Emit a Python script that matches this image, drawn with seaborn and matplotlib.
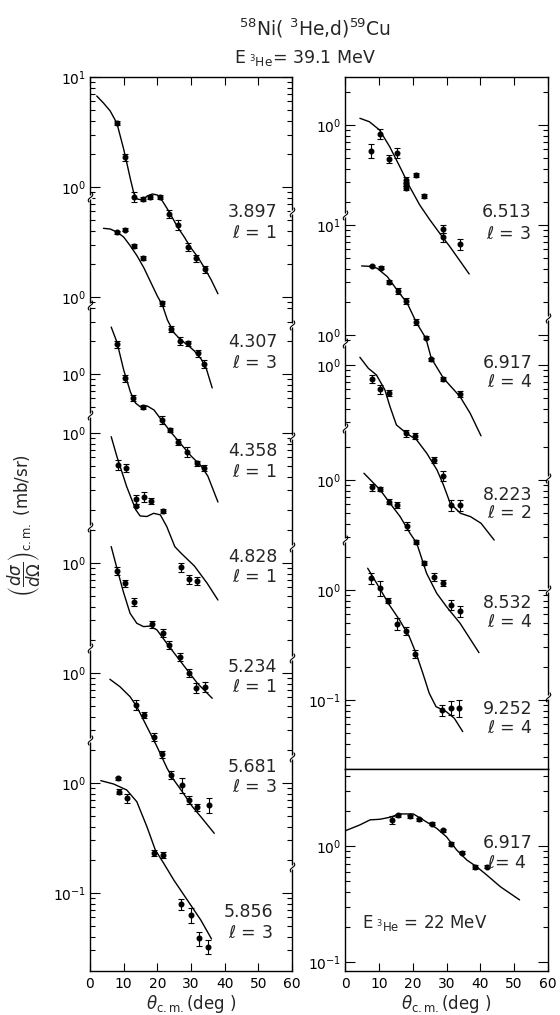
import numpy as np
import pandas as pd
import matplotlib
matplotlib.use("Agg")
import matplotlib.pyplot as plt
import matplotlib.transforms as mtransforms
from matplotlib.path import Path
import seaborn as sns

# ------------------------------------------------------------------
# DATA: differential cross sections (mb/sr) vs theta_cm (deg)
# ------------------------------------------------------------------
# Left column, E(3He) = 39.1 MeV
ex_left = ["3.897", "4.307", "4.358", "4.828", "5.234", "5.681", "5.856"]
ell_left = [1, 3, 1, 1, 1, 3, 3]

th_3897 = [8.0, 10.5, 13.1, 15.7, 17.9, 20.9, 23.6, 26.2, 29.2, 31.5, 34.1]
sg_3897 = [3.79, 1.87, 0.811, 0.773, 0.816, 0.811, 0.572, 0.451, 0.287, 0.225, 0.179]
er_3897 = [0.04, 0.07, 0.10, 0.04, 0.04, 0.04, 0.09, 0.10, 0.08, 0.08, 0.08]
fth_3897 = [2, 4, 6, 8, 10, 11, 12, 13, 14, 15.5, 17, 18.5, 20, 21.5, 23, 24.5, 26, 28, 30, 32, 34, 36, 38]
fsg_3897 = [6.72, 5.80, 4.91, 3.79, 2.21, 1.62, 1.18, 0.882, 0.778, 0.762, 0.828, 0.864, 0.846,
            0.746, 0.631, 0.523, 0.433, 0.351, 0.279, 0.231, 0.184, 0.143, 0.107]

th_4307 = [8.0, 10.4, 13.1, 15.7, 21.3, 24.0, 26.6, 29.1, 32.1, 34.0]
sg_4307 = [3.87, 4.09, 2.91, 2.25, 0.877, 0.512, 0.401, 0.379, 0.308, 0.246]
er_4307 = [0.03, 0.03, 0.04, 0.04, 0.05, 0.06, 0.08, 0.05, 0.07, 0.08]
fth_4307 = [4, 6, 8, 10, 12, 14, 16, 18, 20, 21.5, 23, 25, 27, 29, 31, 33, 34.5, 36.3]
fsg_4307 = [4.21, 4.15, 3.90, 3.51, 2.91, 2.36, 1.84, 1.37, 1.02, 0.846, 0.618, 0.471, 0.406,
            0.366, 0.323, 0.273, 0.226, 0.149]

th_4358 = [8.0, 10.3, 12.9, 15.7, 21.5, 23.9, 26.2, 28.9, 31.8, 33.8]
sg_4358 = [1.87, 0.914, 0.609, 0.498, 0.382, 0.310, 0.242, 0.197, 0.154, 0.139]
er_4358 = [0.07, 0.08, 0.06, 0.04, 0.08, 0.05, 0.06, 0.10, 0.06, 0.06]
fth_4358 = [6.3, 8, 10, 12, 13.5, 15, 17, 19, 21, 24, 27, 30, 33, 35, 38]
fsg_4358 = [2.67, 1.95, 1.09, 0.686, 0.545, 0.501, 0.512, 0.471, 0.390, 0.297, 0.231, 0.180,
            0.146, 0.118, 0.0686]

th_4828 = [8.2, 10.6, 13.6, 13.6, 16.1, 18.1, 21.8, 26.9, 29.4, 31.8]
sg_4828 = [0.512, 0.484, 0.250, 0.218, 0.264, 0.241, 0.195, 0.0601, 0.0468, 0.0451]
er_4828 = [0.10, 0.08, 0.10, 0.03, 0.10, 0.06, 0.04, 0.10, 0.09, 0.08]
fth_4828 = [6.3, 8, 10.9, 13.6, 14.9, 16.9, 18.9, 20.9, 22.8, 25.2, 27, 31, 34.8, 38]
fsg_4828 = [0.925, 0.609, 0.325, 0.200, 0.176, 0.174, 0.186, 0.180, 0.141, 0.0925, 0.081,
            0.0618, 0.043, 0.0303]

th_5234 = [8.0, 10.4, 13.2, 18.4, 21.6, 23.6, 26.6, 29.4, 31.6, 34.3]
sg_5234 = [0.851, 0.654, 0.445, 0.277, 0.232, 0.180, 0.141, 0.1007, 0.0735, 0.075]
er_5234 = [0.08, 0.08, 0.08, 0.08, 0.08, 0.08, 0.08, 0.08, 0.10, 0.10]
fth_5234 = [6.3, 8, 9.9, 11.9, 13.9, 15.9, 17.9, 19.9, 22.8, 25.8, 28.9, 31.9, 36.3]
fsg_5234 = [1.41, 0.895, 0.548, 0.349, 0.283, 0.264, 0.267, 0.246, 0.186, 0.141, 0.106,
            0.0806, 0.0589]

th_5681 = [13.7, 16.1, 18.9, 21.5, 24.2, 27.2, 29.4, 31.8, 35.4]
sg_5681 = [0.512, 0.415, 0.264, 0.182, 0.118, 0.0959, 0.070, 0.0601, 0.0631]
er_5681 = [0.10, 0.06, 0.08, 0.08, 0.08, 0.15, 0.08, 0.08, 0.15]
fth_5681 = [5.9, 8.9, 11.9, 13.9, 16.9, 19.9, 22.9, 24.9, 27.4, 30.4, 32.9, 36.9]
fsg_5681 = [0.877, 0.750, 0.609, 0.494, 0.325, 0.214, 0.136, 0.1065, 0.0834, 0.061, 0.0494, 0.0349]

th_5856 = [8.4, 8.6, 10.9, 19.1, 21.7, 26.9, 30.1, 32.3, 35.1]
sg_5856 = [1.10, 0.834, 0.726, 0.230, 0.222, 0.0794, 0.0631, 0.0387, 0.0325]
er_5856 = [0.03, 0.05, 0.09, 0.06, 0.06, 0.12, 0.15, 0.15, 0.15]
fth_5856 = [3.2, 7.0, 10.9, 13.9, 16.9, 19.4, 21.9, 24.9, 28.9, 32.9, 36.1]
fsg_5856 = [1.05, 0.979, 0.864, 0.676, 0.401, 0.246, 0.186, 0.131, 0.0863, 0.0568, 0.0382]

# Right column, E(3He) = 39.1 MeV
ex_right = ["6.513", "6.917", "8.223", "8.532", "9.252"]
ell_right = [3, 4, 2, 4, 4]

th_6513 = [7.7, 10.3, 12.9, 15.5, 18.1, 18.1, 18.1, 21.0, 23.3, 29.0, 29.0, 33.9]
sg_6513 = [0.584, 0.828, 0.491, 0.560, 0.316, 0.291, 0.266, 0.351, 0.228, 0.1135, 0.0953, 0.0828]
er_6513 = [0.15, 0.10, 0.08, 0.10, 0.06, 0.04, 0.04, 0.04, 0.04, 0.08, 0.10, 0.12]
fth_6513 = [4.4, 7.2, 10.2, 13.2, 16.2, 19.1, 22.1, 25.1, 28.0, 31.0, 36.7]
fsg_6513 = [1.15, 1.07, 0.901, 0.635, 0.418, 0.275, 0.187, 0.137, 0.1035, 0.0783, 0.0442]

th_6917 = [7.9, 10.5, 13.1, 15.7, 18.1, 21.0, 23.9, 25.3, 29.1, 34.0]
sg_6917 = [4.24, 4.09, 3.05, 2.53, 2.05, 1.32, 0.945, 0.601, 0.398, 0.289]
er_6917 = [0.02, 0.03, 0.04, 0.06, 0.06, 0.06, 0.03, 0.03, 0.05, 0.06]
fth_6917 = [4.9, 7.5, 9.5, 12.5, 15.4, 18.4, 21.2, 23.9, 25.5, 29.1, 34.0, 37.0, 40.2]
fsg_6917 = [4.24, 4.20, 4.04, 3.39, 2.56, 1.94, 1.28, 0.933, 0.614, 0.404, 0.275, 0.194, 0.121]

th_8223 = [7.9, 10.3, 13.1, 18.1, 20.8, 26.2, 28.9, 31.4, 34.0]
sg_8223 = [0.746, 0.601, 0.553, 0.239, 0.226, 0.137, 0.098, 0.0534, 0.0534]
er_8223 = [0.08, 0.10, 0.06, 0.08, 0.06, 0.06, 0.10, 0.12, 0.12]
fth_8223 = [4.4, 6.9, 9.3, 11.8, 13.3, 15.2, 18.2, 21.2, 24.2, 27.2, 29.1, 31.1, 34.1, 37.1, 40.2, 44.1]
fsg_8223 = [1.175, 0.933, 0.811, 0.593, 0.418, 0.285, 0.239, 0.208, 0.157, 0.111, 0.0811,
            0.0553, 0.0449, 0.0418, 0.0364, 0.0256]

th_8532 = [7.9, 10.3, 13.1, 15.5, 18.4, 21.0, 23.4, 26.3, 29.1, 31.3, 33.9]
sg_8532 = [0.859, 0.823, 0.635, 0.593, 0.382, 0.272, 0.175, 0.132, 0.1165, 0.0731, 0.0644]
er_8532 = [0.08, 0.04, 0.05, 0.06, 0.08, 0.04, 0.04, 0.08, 0.06, 0.10, 0.12]
fth_8532 = [5.6, 10.4, 13.3, 16.3, 19.2, 21.2, 24.1, 27.1, 30.0, 34.0, 39.6]
fsg_8532 = [1.15, 0.811, 0.614, 0.464, 0.328, 0.266, 0.142, 0.0933, 0.0705, 0.0498, 0.0269]

th_9252 = [7.7, 10.3, 12.7, 15.4, 17.9, 20.7, 28.8, 31.2, 33.6]
sg_9252 = [1.28, 1.04, 0.80, 0.491, 0.427, 0.262, 0.0811, 0.0851, 0.0851]
er_9252 = [0.12, 0.15, 0.05, 0.12, 0.08, 0.08, 0.12, 0.15, 0.18]
fth_9252 = [6.7, 10.2, 13.1, 16.1, 19.0, 21.0, 23.0, 24.9, 26.9, 29.9, 32.3, 34.8]
fsg_9252 = [1.575, 1.04, 0.731, 0.534, 0.376, 0.266, 0.175, 0.115, 0.0869, 0.0783, 0.0682, 0.0515]

# Lower right, E(3He) = 22 MeV, 6.917 MeV l=4
th_22 = [13.8, 15.7, 19.2, 21.9, 25.6, 29.0, 31.2, 34.5, 38.4, 41.9]
sg_22 = [1.68, 1.85, 1.81, 1.70, 1.55, 1.37, 1.05, 0.875, 0.655, 0.663]
er_22 = [0.08, 0.03, 0.03, 0.03, 0.03, 0.03, 0.04, 0.03, 0.04, 0.03]
fth_22 = [0, 4.4, 7.4, 10.3, 13.3, 16.2, 20.2, 23.1, 27.1, 30.0, 33.0, 36.0, 38.9, 41.9, 45.9, 51.6]
fsg_22 = [1.35, 1.52, 1.68, 1.70, 1.77, 1.89, 1.89, 1.68, 1.42, 1.20, 0.924, 0.757, 0.663,
          0.562, 0.446, 0.343]

x_ticks = [0, 10, 20, 30, 40, 50, 60]

# ------------------------------------------------------------------
# LAYOUT (vertical decade offsets of the stacked curves, breaks, etc.)
# ------------------------------------------------------------------
shift_left = [0.0, -1.0, -1.7, -2.236, -3.418, -4.418, -5.418]
shift_right = [0.0, -1.909, -2.182, -3.227, -4.227]
DEC = 110.0  # pixels per decade
L_top, L_bot = 1.0, 1.0 - 894 / DEC
R_top, R_bot = 0.436, 0.436 - 692 / DEC
B_top, B_bot = 0.664, -1.078
bounds_left = [L_top, -0.09, -1.07, -2.07, -3.09, -4.19, -5.03, L_bot]
bounds_right = [R_top, -0.818, -1.982, -2.755, -3.773, R_bot]
breaks_left_in = bounds_left[1:-1]
breaks_left_out = [-0.227, -1.255, -2.273, -3.273, -4.282, -5.182, -6.182]
breaks_right_in = bounds_right[1:-1]
breaks_right_out = [-1.755, -3.209, -4.227, -5.2]

left_series = [
    (th_3897, sg_3897, er_3897, fth_3897, fsg_3897),
    (th_4307, sg_4307, er_4307, fth_4307, fsg_4307),
    (th_4358, sg_4358, er_4358, fth_4358, fsg_4358),
    (th_4828, sg_4828, er_4828, fth_4828, fsg_4828),
    (th_5234, sg_5234, er_5234, fth_5234, fsg_5234),
    (th_5681, sg_5681, er_5681, fth_5681, fsg_5681),
    (th_5856, sg_5856, er_5856, fth_5856, fsg_5856),
]
right_series = [
    (th_6513, sg_6513, er_6513, fth_6513, fsg_6513),
    (th_6917, sg_6917, er_6917, fth_6917, fsg_6917),
    (th_8223, sg_8223, er_8223, fth_8223, fsg_8223),
    (th_8532, sg_8532, er_8532, fth_8532, fsg_8532),
    (th_9252, sg_9252, er_9252, fth_9252, fsg_9252),
]

# ------------------------------------------------------------------
sns.set_theme(style="ticks")
plt.rcParams['font.family'] = ['DejaVu Sans']
plt.rcParams['mathtext.fontset'] = 'dejavusans'
plt.rcParams['axes.linewidth'] = 1.0

W, H = 560, 1015
fig = plt.figure(figsize=(W / 100, H / 100), dpi=100)
fig.patch.set_facecolor('white')


def fx(px):
    return px / W


def fy(py):
    return 1 - py / H


axL = fig.add_axes([fx(90), fy(971), (292 - 90) / W, (971 - 77) / H])
axR = fig.add_axes([fx(345), fy(769), (548 - 345) / W, (769 - 77) / H])
axB = fig.add_axes([fx(345), fy(971), (548 - 345) / W, (971 - 769) / H])


def seg_ticks(bounds, shifts):
    major, minor = [], []
    for (hi, lo), s in zip(zip(bounds[:-1], bounds[1:]), shifts):
        for n in range(int(np.floor(lo - s)) - 1, int(np.ceil(hi - s)) + 2):
            for m in range(1, 10):
                t = np.log10(m) + n + s
                if lo + 0.02 < t <= hi + 1e-6:
                    (major if m == 1 else minor).append(t)
    return major, minor


def draw_points(ax, th, y, er):
    ax.errorbar(th, y, yerr=np.asarray(y) * np.asarray(er), fmt='o', ms=3.3, color='black',
                ecolor='black', elinewidth=0.8, capsize=2.0, capthick=0.8, zorder=4)


def draw_panel(ax, series, shifts, bounds, labeled, ylims):
    ax.set_yscale('log')
    rows = []
    for i, (th, sg, er, fth, fsg) in enumerate(series):
        k = 10 ** shifts[i]
        for a, b in zip(fth, fsg):
            rows.append({'series': i, 'theta': a, 'sig': b * k})
    df = pd.DataFrame(rows)
    sns.lineplot(data=df, x='theta', y='sig', units='series', estimator=None, sort=False,
                 color='black', lw=1.0, ax=ax)
    for i, (th, sg, er, fth, fsg) in enumerate(series):
        draw_points(ax, th, np.array(sg) * 10 ** shifts[i], er)
    major, minor = seg_ticks(bounds, shifts)
    labs = []
    for t in major:
        lab = ''
        for (tv, tl) in labeled:
            if abs(tv - t) < 0.01:
                lab = tl
        labs.append(lab)
    ax.set_yticks([10 ** t for t in major], labs)
    ax.set_yticks([10 ** t for t in minor], minor=True)
    ax.yaxis.set_minor_formatter(matplotlib.ticker.NullFormatter())
    ax.set_ylim(10 ** ylims[1], 10 ** ylims[0])


labeled_left = [(1.0, r'$10^{1}$')] + [(s, r'$10^{0}$') for s in shift_left] + \
               [(shift_left[-1] - 1, r'$10^{-1}$')]
labeled_right = [(s, r'$10^{0}$') for s in shift_right] + \
                [(shift_right[1] + 1, r'$10^{1}$'), (shift_right[-1] - 1, r'$10^{-1}$')]

draw_panel(axL, left_series, shift_left, bounds_left, labeled_left, (L_top, L_bot))
draw_panel(axR, right_series, shift_right, bounds_right, labeled_right, (R_top, R_bot))

# lower-right panel
axB.set_yscale('log')
dfB = pd.DataFrame({'theta': fth_22, 'sig': fsg_22})
sns.lineplot(data=dfB, x='theta', y='sig', estimator=None, sort=False, color='black', lw=1.0, ax=axB)
draw_points(axB, th_22, sg_22, er_22)
axB.set_yticks([0.1, 1.0], [r'$10^{-1}$', r'$10^{0}$'])
axB.set_yticks([m * 10.0 ** n for n in (-1, 0) for m in range(2, 10)
                if B_bot < np.log10(m) + n < B_top], minor=True)
axB.yaxis.set_minor_formatter(matplotlib.ticker.NullFormatter())
axB.set_ylim(10 ** B_bot, 10 ** B_top)

for ax in (axL, axR, axB):
    ax.set_xticks(x_ticks, [str(v) for v in x_ticks])
    ax.set_xlim(0, 60)
    ax.set_xlabel('')
    ax.set_ylabel('')
    ax.tick_params(axis='both', which='both', direction='in', colors='black', labelsize=10,
                   left=True, right=True, top=True, bottom=True, width=0.8)
    ax.tick_params(axis='y', which='major', length=7, pad=3)
    ax.tick_params(axis='y', which='minor', length=3.5)
    ax.tick_params(axis='x', which='major', length=6, pad=4)
    for sp in ax.spines.values():
        sp.set_color('black')
        sp.set_linewidth(1.0)

axR.tick_params(axis='x', bottom=False, labelbottom=False)
axB.tick_params(axis='x', top=False)

axL.set_xlabel(r'$\theta_{\mathrm{c.m.}}$(deg )', fontsize=12, labelpad=2)
axB.set_xlabel(r'$\theta_{\mathrm{c.m.}}$(deg )', fontsize=12, labelpad=2)

# axis break marks
tt = np.linspace(-1, 1, 25)
squig = Path(np.column_stack([0.33 * np.sin(np.pi * tt) + 0.25 * tt, tt]))


def draw_breaks(ax, xpos, logs):
    tr = mtransforms.blended_transform_factory(ax.transAxes, ax.transData)
    ys = [10 ** v for v in logs]
    xs = [xpos] * len(ys)
    ax.plot(xs, ys, ls='none', marker='s', ms=3.5, mfc='white', mec='none',
            transform=tr, clip_on=False, zorder=6)
    ax.plot(xs, ys, ls='none', marker=squig, ms=7, mfc='none', mec='black', mew=0.8,
            transform=tr, clip_on=False, zorder=7)


draw_breaks(axL, 0, breaks_left_in)
draw_breaks(axL, 1, breaks_left_out)
draw_breaks(axR, 0, breaks_right_in)
draw_breaks(axR, 1, breaks_right_out)

# texts
fig.text(fx(315), fy(28), r'$^{58}$Ni( $^{3}$He,d)$^{59}$Cu', ha='center', va='center', fontsize=13.5)
fig.text(fx(305), fy(58), r'E$_{\ {}^{3}\mathrm{He}}$= 39.1 MeV', ha='center', va='center', fontsize=12.5)
fig.text(fx(24), fy(525), r'$\left(\dfrac{d\sigma}{d\Omega}\right)_{\mathrm{c.m.}}$ (mb/sr)',
         rotation=90, ha='center', va='center', fontsize=12)

pos_left = [(228, 212, 233), (228, 342, 363), (228, 451, 472), (228, 557, 577),
            (228, 667, 687), (228, 767, 787), (224, 912, 933)]
pos_right = [(482, 212, 234), (483, 363, 382), (483, 495, 513), (483, 603, 622), (483, 709, 728)]
for (x, y1, y2), ex, el in zip(pos_left + pos_right, ex_left + ex_right, ell_left + ell_right):
    fig.text(fx(x), fy(y1), ex, ha='left', va='center', fontsize=12.5)
    fig.text(fx(x + 4), fy(y2), r'$\ell$ = %d' % el, ha='left', va='center', fontsize=12.5)
fig.text(fx(483), fy(843), '6.917', ha='left', va='center', fontsize=12.5)
fig.text(fx(487), fy(863), r'$\ell$= 4', ha='left', va='center', fontsize=12.5)
fig.text(fx(362), fy(923), r'E$_{\ {}^{3}\mathrm{He}}$ = 22 MeV', ha='left', va='center', fontsize=12)

fig.savefig('out.png', dpi=100, facecolor='white')
